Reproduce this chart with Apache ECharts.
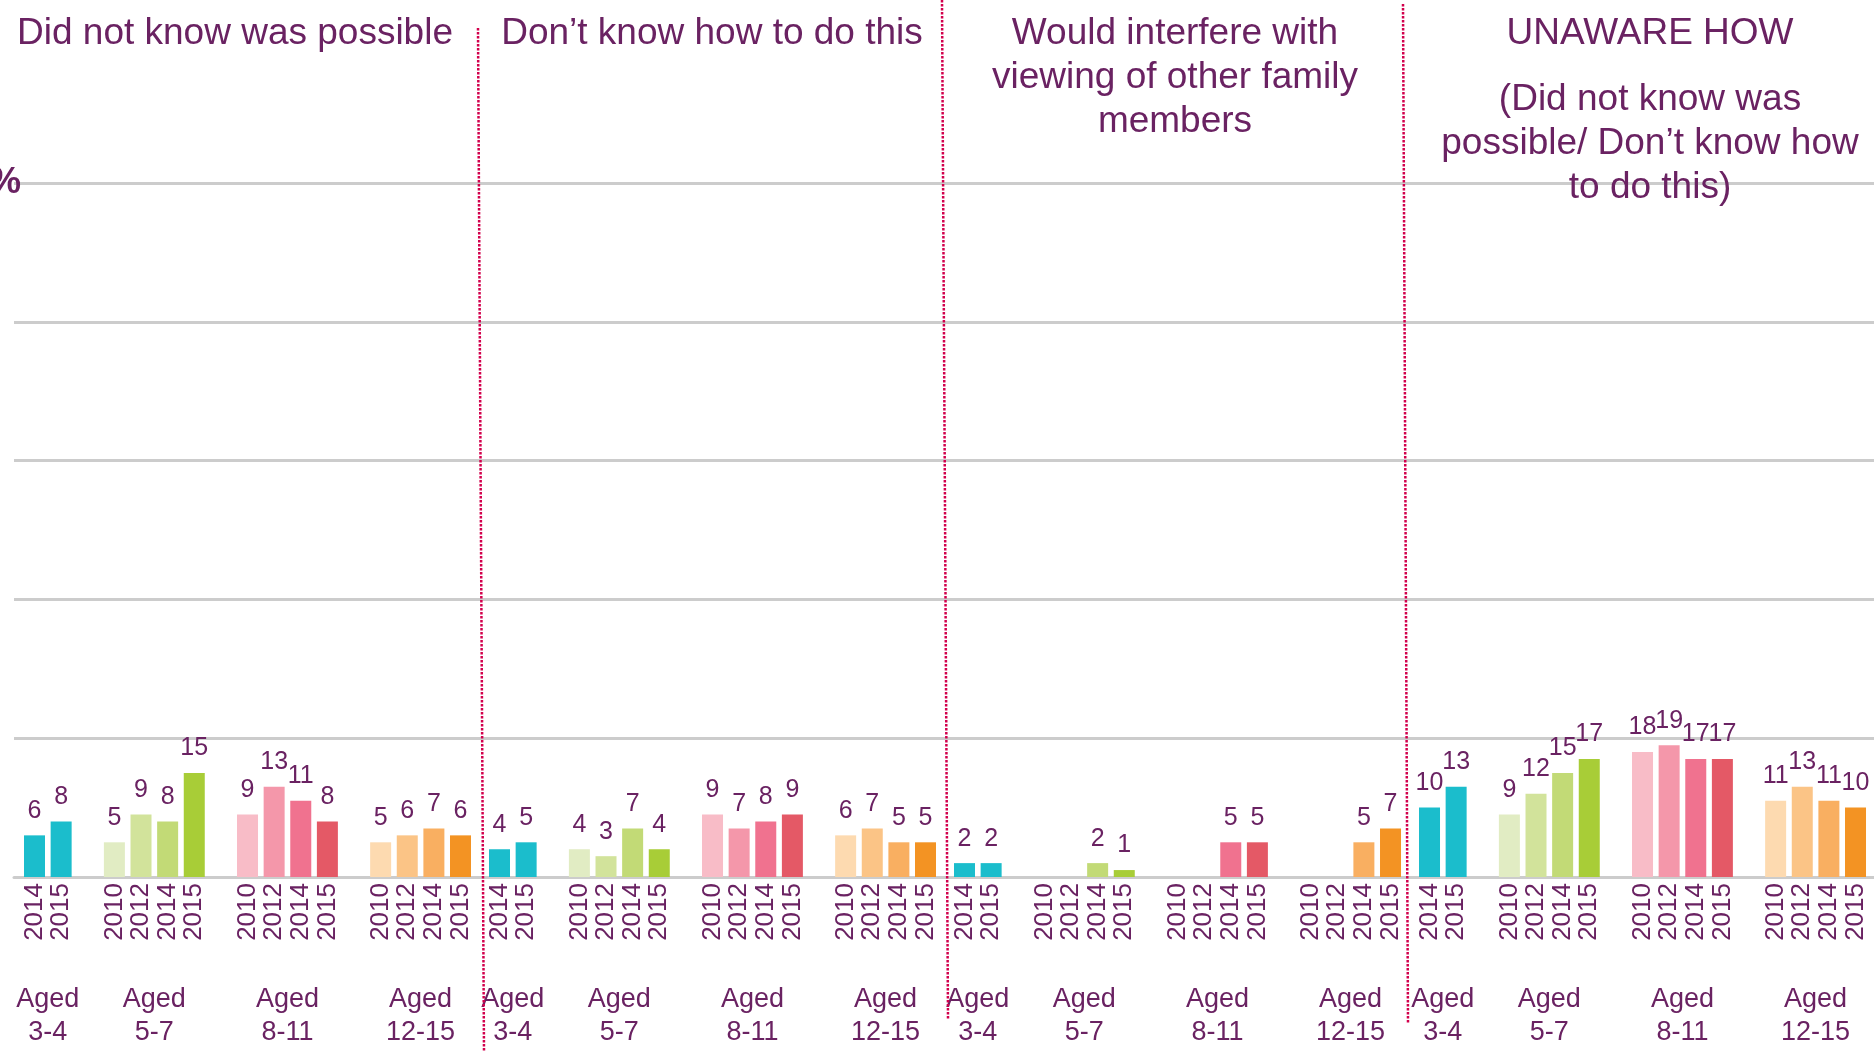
<!DOCTYPE html>
<html>
<head>
<meta charset="utf-8">
<script src="https://cdn.jsdelivr.net/npm/echarts@6/dist/echarts.min.js"></script>
<style>
  html, body { margin: 0; padding: 0; background: #ffffff; }
  #chart { width: 1874px; height: 1052px; }
</style>
</head>
<body>
<div id="chart"></div>
<script>
// Panel headings
const panelTitles = [
  'Did not know was possible',
  'Don\u2019t know how to do this',
  'Would interfere with\nviewing of other family\nmembers',
  'UNAWARE HOW'
];
const panelSubtitles = ['', '', '', '(Did not know was\npossible/ Don\u2019t know how\nto do this)'];

// Age groups and the survey years shown for each
const ageGroups = ['Aged\n3-4', 'Aged\n5-7', 'Aged\n8-11', 'Aged\n12-15'];
const groupYears = [
  ['2014', '2015'],
  ['2010', '2012', '2014', '2015'],
  ['2010', '2012', '2014', '2015'],
  ['2010', '2012', '2014', '2015']
];
const groupColors = [
  ['#1BBDCC', '#1BBDCC'],
  ['#E1ECC3', '#D2E39B', '#C2DA76', '#A8CD37'],
  ['#F8BCC7', '#F497AA', '#F0728F', '#E45966'],
  ['#FDDAB0', '#FBC486', '#F9AF61', '#F39323']
];

// Percentages per age group, in year order
const didNotKnow  = [[6, 8], [5, 9, 8, 15], [9, 13, 11, 8], [5, 6, 7, 6]];
const dontKnowHow = [[4, 5], [4, 3, 7, 4], [9, 7, 8, 9], [6, 7, 5, 5]];
const interfere   = [[2, 2], [null, null, 2, 1], [null, null, 5, 5], [null, null, 5, 7]];
const unawareHow  = [[10, 13], [9, 12, 15, 17], [18, 19, 17, 17], [11, 13, 11, 10]];
const panelValues = [didNotKnow, dontKnowHow, interfere, unawareHow];

const yMax = 100;
const yStep = 20;

// Layout
const SLOT = 26.625;
const PANEL_STEP = 465;
const FIRST_LEFT = 21.2;
const PLOT_TOP = 183;
const PLOT_BOTTOM = 175;
const TITLE_CENTERS = [235, 712, 1175, 1650];
const SEPARATORS = [[478, 28, 484, 1052], [942, 0, 948, 1019], [1403, 4, 1408, 1023]];

const PURPLE = '#6A2262';
const GRID_GREY = '#CCCCCC';
const FONT = '"Liberation Sans", Arial, sans-serif';

// Slot layout inside one panel: years, with an empty slot between age groups
const slotYears = [];
const groupCenters = [];
groupYears.forEach((ys, g) => {
  if (g > 0) slotYears.push('');
  const start = slotYears.length;
  ys.forEach(y => slotYears.push(y));
  groupCenters.push((start + slotYears.length - 1) / 2);
});
const nSlots = slotYears.length;
const panelWidth = nSlots * SLOT;

// Group-label axis: half-slot resolution, no boundary gap
const groupAxisData = new Array(2 * nSlots + 1).fill('');
groupCenters.forEach((c, g) => { groupAxisData[Math.round(2 * c + 1)] = ageGroups[g]; });

function panelData(values) {
  const out = [];
  values.forEach((vs, g) => {
    if (g > 0) out.push('-');
    vs.forEach((v, i) => {
      out.push(v == null ? '-' : { value: v, itemStyle: { color: groupColors[g][i] } });
    });
  });
  return out;
}

const grid = [{ left: 14, right: 0, top: PLOT_TOP, bottom: PLOT_BOTTOM, outerBoundsMode: 'none', containLabel: false }];
const xAxis = [{
  gridIndex: 0, type: 'category', data: [''],
  axisLine: { show: true, lineStyle: { color: GRID_GREY, width: 3 } },
  axisTick: { show: false }, axisLabel: { show: false }, splitLine: { show: false }
}];
const yAxis = [{
  gridIndex: 0, type: 'value', min: 0, max: yMax, interval: yStep,
  axisLine: { show: false }, axisTick: { show: false },
  splitLine: { show: true, lineStyle: { color: GRID_GREY, width: 3 } },
  axisLabel: {
    margin: -7, color: PURPLE, fontSize: 36, fontWeight: 'bold', fontFamily: FONT,
    formatter: v => (v === yMax ? '%' : '')
  }
}];
const series = [];

panelValues.forEach((values, k) => {
  const gi = k + 1;
  grid.push({
    left: FIRST_LEFT + k * PANEL_STEP, width: panelWidth, top: PLOT_TOP, bottom: PLOT_BOTTOM,
    outerBoundsMode: 'none', containLabel: false
  });
  xAxis.push({
    gridIndex: gi, type: 'category', data: slotYears, position: 'bottom',
    axisLine: { show: false }, axisTick: { show: false },
    axisLabel: { interval: 0, rotate: 90, margin: 6, color: PURPLE, fontSize: 26, fontFamily: FONT }
  });
  xAxis.push({
    gridIndex: gi, type: 'category', data: groupAxisData, boundaryGap: false, position: 'bottom',
    axisLine: { show: false }, axisTick: { show: false },
    axisLabel: { interval: 0, margin: 106, color: PURPLE, fontSize: 27, lineHeight: 33, fontFamily: FONT, align: 'center' }
  });
  yAxis.push({ gridIndex: gi, type: 'value', min: 0, max: yMax, interval: yStep, show: false, splitLine: { show: false } });
  series.push({
    type: 'bar',
    xAxisIndex: 2 * k + 1,
    yAxisIndex: gi,
    barWidth: 21,
    data: panelData(values),
    label: {
      show: true, position: 'top', distance: 12,
      color: PURPLE, fontSize: 25, fontFamily: FONT
    }
  });
});

const title = panelTitles.map((t, k) => ({
  text: t,
  subtext: panelSubtitles[k],
  left: TITLE_CENTERS[k],
  top: 12,
  textAlign: 'center',
  padding: 0,
  itemGap: 22,
  textStyle: { color: PURPLE, fontSize: 37, fontWeight: 'normal', lineHeight: 44, fontFamily: FONT },
  subtextStyle: { color: PURPLE, fontSize: 37, lineHeight: 44, fontFamily: FONT }
}));

const graphic = SEPARATORS.map(s => ({
  type: 'line',
  shape: { x1: s[0], y1: s[1], x2: s[2], y2: s[3] },
  style: { stroke: '#D2004C', lineWidth: 2.5, lineDash: [2.5, 1.5] },
  z: 10
}));

const chart = echarts.init(document.getElementById('chart'), null, { renderer: 'canvas' });
chart.setOption({
  animation: false,
  backgroundColor: '#ffffff',
  title, grid, xAxis, yAxis, series, graphic
});
</script>
</body>
</html>
